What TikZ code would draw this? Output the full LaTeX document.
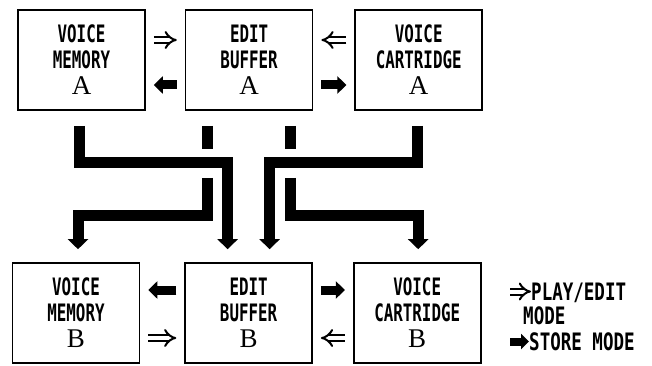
\documentclass[tikz,border=0pt]{standalone}
\usepackage{fontspec}
\newfontfamily\panelfont[FakeStretch=0.66]{DejaVu Sans Mono}
\newfontfamily\keyfont[FakeStretch=0.73]{DejaVu Sans Mono}
\newfontfamily\letterfont{Liberation Serif}
\newcommand{\bankletter}[1]{{\letterfont\mdseries\fontsize{27}{26}\selectfont #1}}
\usetikzlibrary{arrows.meta, positioning}

\begin{document}
\begin{tikzpicture}[
  node distance=40pt and 40pt,
  panel/.style={
    rectangle, draw=black, line width=1.6pt,
    minimum width=127pt, minimum height=100pt, inner sep=0pt,
    align=center, font=\panelfont\bfseries\fontsize{24}{26}\selectfont
  },
  keytext/.style={
    anchor=base west, inner sep=0pt, text height=17pt, text depth=0pt,
    font=\keyfont\bfseries\fontsize{24}{26}\selectfont
  },
  bar/.style={line width=11pt, color=black},
  flow/.style={bar, -{Triangle[length=10pt, width=20pt]}},
  playarr/.style={double, double distance=4pt, line width=2pt,
    -{Implies[length=7pt, width=17pt]}},
  storearr/.style={line width=9pt, -{Triangle[length=9pt, width=17pt]}},
]
\useasboundingbox (0,0) rectangle (652pt,-366pt);

% Row A
\node[panel] (vmA) at (81.5pt,-60pt) {VOICE\\MEMORY\\\bankletter{A}};
\node[panel, right=39pt of vmA] (ebA) {EDIT\\BUFFER\\\bankletter{A}};
\node[panel, right=41pt of ebA] (vcA) {VOICE\\CARTRIDGE\\\bankletter{A}};

% Row B
\node[panel] (vmB) at (76pt,-313pt) {VOICE\\MEMORY\\\bankletter{B}};
\node[panel, right=44pt of vmB] (ebB) {EDIT\\BUFFER\\\bankletter{B}};
\node[panel, right=40pt of ebB] (vcB) {VOICE\\CARTRIDGE\\\bankletter{B}};

% Arrows inside a row
\draw[playarr, shorten <=8pt, shorten >=8pt] ([yshift=20pt]vmA.east) -- ([yshift=20pt]ebA.west);
\draw[storearr, shorten <=8pt, shorten >=8pt] ([yshift=-25pt]ebA.west) -- ([yshift=-25pt]vmA.east);
\draw[playarr, shorten <=8pt, shorten >=8pt] ([yshift=20pt]vcA.west) -- ([yshift=20pt]ebA.east);
\draw[storearr, shorten <=8pt, shorten >=8pt] ([yshift=-25pt]ebA.east) -- ([yshift=-25pt]vcA.west);

\draw[storearr, shorten <=8pt, shorten >=8pt] ([yshift=23pt]ebB.west) -- ([yshift=23pt]vmB.east);
\draw[playarr, shorten <=8pt, shorten >=8pt] ([yshift=-25pt]vmB.east) -- ([yshift=-25pt]ebB.west);
\draw[storearr, shorten <=8pt, shorten >=8pt] ([yshift=23pt]ebB.east) -- ([yshift=23pt]vcB.west);
\draw[playarr, shorten <=8pt, shorten >=8pt] ([yshift=-25pt]vcB.west) -- ([yshift=-25pt]ebB.east);

% Row A to row B
\draw[bar, shorten <=15pt] ([xshift=-42pt]ebA.south) -- ++(0,-38pt) coordinate (cutL);
\draw[bar, shorten <=15pt] ([xshift=41pt]ebA.south) -- ++(0,-38pt) coordinate (cutR);
\draw[flow, shorten <=15pt, shorten >=13pt] ([xshift=-2.5pt]vmA.south) -- ++(0,-52pt) -| ([xshift=-21pt]ebB.north);
\draw[flow, shorten <=15pt, shorten >=13pt] ([xshift=-1pt]vcA.south) -- ++(0,-52pt) -| ([xshift=21pt]ebB.north);
\draw[flow, shorten >=13pt] ([yshift=-29pt]cutL) -- ++(0,-38pt) -| ([xshift=2pt]vmB.north);
\draw[flow, shorten >=13pt] ([yshift=-29pt]cutR) -- ++(0,-38pt) -| ([xshift=1pt]vcB.north);

% Key
\node[keytext] (playkey) at (531pt,-300pt) {PLAY/EDIT};
\node[keytext] (modekey) at (523pt,-324pt) {MODE};
\node[keytext] (storekey) at (529pt,-350pt) {STORE MODE};
\coordinate (playtail) at ([xshift=-21pt]playkey.west);
\coordinate (storetail) at ([xshift=-19pt]storekey.west);
\draw[playarr] (playtail) -- (playkey.west);
\draw[line width=8pt, -{Triangle[length=8pt, width=15pt]}] (storetail) -- (storekey.west);

\end{tikzpicture}
\end{document}
